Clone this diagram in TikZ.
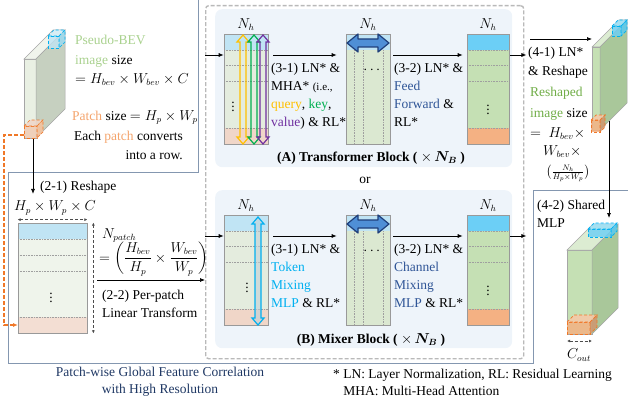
\documentclass[tikz,border=0pt]{standalone}
\usepackage{amsmath,amssymb}
\usepackage{fontspec}
\setmainfont{Liberation Serif}
\usepackage{tikz}
\usetikzlibrary{arrows.meta,positioning,calc}
\definecolor{panelbg}{RGB}{238,244,250}
\definecolor{outl}{RGB}{132,151,176}
\definecolor{bevgreen}{RGB}{169,209,142}
\definecolor{patchor}{RGB}{244,164,108}
\definecolor{darkor}{RGB}{240,120,40}
\definecolor{navy}{RGB}{47,85,151}
\definecolor{capnavy}{RGB}{31,56,100}
\definecolor{tokcyan}{RGB}{0,176,240}
\definecolor{rgreen}{RGB}{112,173,71}
\definecolor{qyel}{RGB}{255,192,0}
\definecolor{kgrn}{RGB}{0,176,80}
\definecolor{vpur}{RGB}{112,48,160}
\definecolor{lblue}{RGB}{192,228,244}
\definecolor{dblue}{RGB}{108,207,246}
\definecolor{lgreen}{RGB}{228,236,222}
\definecolor{mgreen}{RGB}{197,224,180}
\definecolor{sgreen}{RGB}{169,199,154}
\definecolor{bevfront}{RGB}{233,240,227}
\definecolor{bevtop}{RGB}{240,244,236}
\definecolor{bevside}{RGB}{198,208,192}
\definecolor{lorange}{RGB}{240,214,200}
\definecolor{morange}{RGB}{244,177,131}
\definecolor{arrblue}{RGB}{79,143,214}
\definecolor{arrdark}{RGB}{31,63,122}
\newcommand{\bodyfont}{\fontsize{13.5}{18}\selectfont}
\newcommand{\minifont}{\fontsize{11}{13}\selectfont}
% box in oblique view: style, front, top, side, x, y, w, h, depth
\newcommand{\prism}[9]{%
  \filldraw[#1, fill=#2] (#5,#6) rectangle ++(#7,#8);
  \filldraw[#1, fill=#3] (#5,#6) -- ++(#9,-#9) -- ++(#7,0) -- ++(-#9,#9) -- cycle;
  \filldraw[#1, fill=#4] (#5+#7,#6) -- ++(#9,-#9) -- ++(0,#8) -- ++(-#9,#9) -- cycle;
}

\begin{document}
\begin{tikzpicture}[x=1pt, y=-1pt,
      txt/.style={font=\bodyfont, align=left, inner sep=0pt, anchor=north west},
      lbl/.style={font=\bodyfont, inner sep=0pt},
      panel/.style={fill=panelbg, rounded corners=7pt, minimum width=297pt,
                    minimum height=158pt, anchor=north west},
      stackbox/.style={draw=gray!55, line width=1.4pt, dash pattern=on 4pt off 2pt,
                       rounded corners=3pt, minimum width=318pt, minimum height=353pt,
                       anchor=north west},
      colframe/.style={draw=gray!80, line width=0.7pt, minimum width=44pt,
                       minimum height=110pt, inner sep=0pt},
      rowline/.style={gray!75, densely dotted, line width=0.6pt},
      arr/.style={-{Latex[length=5pt,width=4pt]}, line width=0.7pt},
      dimarr/.style={{Latex[length=3pt,width=3pt]}-{Latex[length=3pt,width=3pt]},
                     densely dashed, line width=0.6pt, black!70},
      face/.style={draw=gray!70, line width=0.5pt},
      bluecube/.style={draw=tokcyan, densely dashed, line width=0.7pt, fill opacity=0.8},
      orcube/.style={draw=darkor, densely dashed, line width=0.7pt, fill opacity=0.85},
      outline/.style={draw=outl, line width=0.9pt},
      patchlink/.style={draw=darkor, dash pattern=on 4pt off 2pt, line width=1.2pt,
                        -{Latex[length=5pt,width=4pt,fill=darkor]}},
    ]
    \useasboundingbox (0,0) rectangle (628,404);

    % Outline of the patch-wise region
    \draw[outline] (198,0) -- (198,172) -- (8,172) -- (8,363) -- (533,363)
      -- (533,190) -- (628,190);

    % Block stack
    \node[stackbox] (stack) at (205,5) {};
    \node[panel] (panA) at (215,9) {};
    \node[panel] (panB) at (215,190) {};

    \foreach \dy/\b/\dx in {0/A/233,181/B/247}{
      % token column
      \fill[lblue] (224,34+\dy) rectangle (268,50+\dy);
      \fill[lgreen] (224,50+\dy) rectangle (268,128+\dy);
      \fill[lorange] (224,128+\dy) rectangle (268,144+\dy);
      \foreach \y in {50,65,81,128}
        \draw[rowline] (224,\y+\dy) -- (268,\y+\dy);
      \node[colframe] (c1\b) at (246,89+\dy) {};
      \node[lbl] at (\dx,104+\dy) {$\vdots$};
      % channel column
      \fill[lblue] (346,34+\dy) rectangle (390,50+\dy);
      \fill[lgreen!70!mgreen] (346,50+\dy) rectangle (390,144+\dy);
      \foreach \x in {354,363,383}
        \draw[rowline] (\x,50+\dy) -- (\x,144+\dy);
      \node[colframe] (c2\b) at (368,89+\dy) {};
      \node[lbl] at (373,70+\dy) {$\cdots$};
      \filldraw[fill=arrblue, draw=arrdark, line width=1.2pt, line join=round]
        (347,43+\dy) -- (358,34+\dy) -- (358,39+\dy) -- (378,39+\dy) -- (378,34+\dy)
        -- (389,43+\dy) -- (378,52+\dy) -- (378,47+\dy) -- (358,47+\dy)
        -- (358,52+\dy) -- cycle;
      % output column
      \fill[dblue] (467,34+\dy) rectangle (509,50+\dy);
      \fill[mgreen] (467,50+\dy) rectangle (509,128+\dy);
      \fill[morange] (467,128+\dy) rectangle (509,144+\dy);
      \foreach \y in {50,65,81,128}
        \draw[rowline] (467,\y+\dy) -- (509,\y+\dy);
      \node[colframe, minimum width=42pt] (c3\b) at (488,89+\dy) {};
      \node[lbl] at (488,107+\dy) {$\vdots$};
      \foreach \cn in {c1,c2,c3}
        \node[lbl, above=3pt of \cn\b] {$N_h$};
      % arrows through the block
      \coordinate (lv\b) at (0,55+\dy);
      \draw[arr] (stack.west |- lv\b) -- (c1\b.west |- lv\b);
      \draw[arr, shorten <=5pt, shorten >=9pt] (c1\b.east |- lv\b) -- (c2\b.west |- lv\b);
      \draw[arr, shorten <=3pt, shorten >=4pt] (c2\b.east |- lv\b) -- (c3\b.west |- lv\b);
      \draw[arr, shorten <=1pt, shorten >=-2pt] (c3\b.east |- lv\b) -- (stack.east |- lv\b);
    }

    % Attention arrows (query, key, value)
    \foreach \x/\clr in {243/qyel,254/kgrn,263/vpur}
      \draw[\clr, line width=1.2pt]
        (\x,35) -- (\x+6,42) -- (\x+3,42) -- (\x+3,137) -- (\x+6,137) -- (\x,144)
        -- (\x-6,137) -- (\x-3,137) -- (\x-3,42) -- (\x-6,42) -- cycle;
    % Token mixing arrow
    \filldraw[draw=tokcyan, fill=lblue!60!gray!70, fill opacity=0.6, line width=1.2pt]
      (258,217) -- (264,224) -- (261,224) -- (261,318) -- (264,318) -- (258,325)
      -- (252,318) -- (255,318) -- (255,224) -- (252,224) -- cycle;

    % Block texts
    \node[txt] (mha) at (271,63)
      {(3-1) LN* \&\\MHA* {\minifont (i.e.,}\\\textcolor{qyel}{query}, \textcolor{kgrn}{key},\\\textcolor{vpur}{value}) \& RL*};
    \node[txt] (ffn) at (394,63)
      {(3-2) LN* \&\\\textcolor{navy}{Feed}\\\textcolor{navy}{Forward} \&\\RL*};
    \node[txt] (tok) at (271,244)
      {(3-1) LN* \&\\\textcolor{tokcyan}{Token}\\\textcolor{tokcyan}{Mixing}\\\textcolor{tokcyan}{MLP} \& RL*};
    \node[txt] (chn) at (394,244)
      {(3-2) LN* \&\\\textcolor{navy}{Channel}\\\textcolor{navy}{Mixing}\\\textcolor{navy}{MLP} \& RL*};
    \node[lbl, font=\bodyfont\bfseries] (titA) at (371,158)
      {(A) Transformer Block ( $\times\,\boldsymbol{N_B}$ )};
    \node[lbl] (or) at (365,180) {or};
    \node[lbl, font=\bodyfont\bfseries] (titB) at (371,340)
      {(B) Mixer Block ( $\times\,\boldsymbol{N_B}$ )};

    % Pseudo-BEV input
    \prism{face}{bevfront}{bevtop}{bevside}{24}{59}{12}{79}{29}
    \prism{bluecube}{lblue}{lblue!70!white}{lblue!80!tokcyan}{48}{36}{11}{12}{6}
    \prism{orcube}{lorange!70!morange}{lorange}{morange!80}{24}{126}{13}{12}{6}
    \node[txt, font=\fontsize{13.5}{19.5}\selectfont] (bevtxt) at (75,35)
      {\textcolor{bevgreen}{Pseudo-BEV}\\\textcolor{bevgreen}{image} size\\$= H_{bev}\times W_{bev}\times C$};
    \node[txt] (ptxt) at (72,110) {\textcolor{patchor}{Patch} size $= H_p\times W_p$};
    \node[txt, align=right, anchor=north east, font=\fontsize{13.5}{19}\selectfont] (rowtxt)
      at (183,131) {Each \textcolor{patchor}{patch} converts\\into a row.};

    % Patch rows
    \fill[lblue] (18,223) rectangle (87,239);
    \fill[lgreen!60!white] (18,239) rectangle (87,317);
    \fill[lorange!80!white] (18,317) rectangle (87,333);
    \foreach \y in {239,255,271,317}
      \draw[rowline] (18,\y) -- (87,\y);
    \node[colframe, minimum width=69pt] (patches) at (52.5,278) {};
    \node[lbl] at (51,295) {$\vdots$};
    \node[lbl] (psize) at (55,208) {$H_p\times W_p\times C$};
    \draw[dimarr] ([yshift=3pt]patches.north west) -- ([yshift=3pt]patches.north east);
    \draw[dimarr] ([xshift=6pt]patches.north east) -- ([xshift=6pt]patches.south east);
    \coordinate (bevout) at (33,139);
    \draw[arr, shorten >=7pt] (bevout) -- (bevout |- psize.north);
    \node[lbl, anchor=base west] (reshp) at (40,190.5) {(2-1) Reshape};
    \coordinate (opatch) at (24,135);
    \coordinate (orow) at (18,325);
    \draw[patchlink] (opatch) -- ++(-20,0) |- (orow);
    \node[lbl, anchor=base west] (npatch) at (102,238.5) {$N_{patch}$};
    \node[lbl, anchor=west] (nfrac) at (99,259)
      {$=\left(\dfrac{H_{bev}}{H_p}\times\dfrac{W_{bev}}{W_p}\right)$};
    \coordinate (linin) at (97,280);
    \draw[arr] (linin) -- (stack.west |- linin);
    \node[txt] (lintxt) at (102,290) {(2-2) Per-patch\\Linear Transform};

    % Reshaped output
    \coordinate (rsin) at (592,39);
    \draw[arr] ([xshift=6pt]stack.east |- rsin) -- (rsin);
    \prism{face}{mgreen}{mgreen!60!white}{sgreen}{592}{47}{8}{83}{27}
    \prism{bluecube}{dblue}{dblue!70!white}{dblue!80!tokcyan}{612}{26}{9}{10}{6}
    \prism{orcube}{morange}{morange!70!white}{morange!85!black}{591}{120}{9}{12}{5}
    \node[txt, font=\fontsize{13.5}{19}\selectfont] (lntxt) at (528,47)
      {(4-1) LN*\\\& Reshape};
    \node[txt, font=\fontsize{13.5}{21}\selectfont] (rstxt) at (530,87)
      {\textcolor{rgreen}{Reshaped}\\\textcolor{rgreen}{image} size};
    \node[txt] (rseq) at (530,127) {$=\ H_{bev}\times$};
    \node[txt] (rsw) at (543,145) {$W_{bev}\times$};
    \node[lbl, anchor=west, font=\fontsize{12}{14}\selectfont] (rsfrac) at (546,173)
      {$\bigl(\frac{N_h}{H_p\times W_p}\bigr)$};

    % Shared MLP
    \coordinate (rsout) at (609,121);
    \coordinate (mlpin) at (609,218);
    \draw[arr] (rsout) -- (mlpin);
    \node[txt] (mlptxt) at (537,200) {(4-2) Shared\\MLP};
    \prism{face}{mgreen}{mgreen!60!white}{sgreen}{567}{250}{25}{84}{26}
    \prism{bluecube}{dblue}{dblue!70!white}{dblue!80!tokcyan}{588}{229}{23}{8}{6}
    \prism{orcube}{morange}{morange!70!white}{morange!85!black}{567}{322}{23}{12}{7}
    \coordinate (coutL) at (567,341);
    \coordinate (coutR) at (592,341);
    \draw[dimarr] (coutL) -- (coutR);
    \node[lbl] (cout) at (579,355) {$C_{out}$};

    % Captions
    \node[lbl, align=center, text=capnavy, font=\fontsize{13.5}{17}\selectfont] (cap)
      at (160,382) {Patch-wise Global Feature Correlation\\with High Resolution};
    \node[txt, font=\fontsize{13.5}{17}\selectfont] (foot) at (333,369)
      {* LN: Layer Normalization, RL: Residual Learning\\\hphantom{*~}MHA: Multi-Head Attention};
  \end{tikzpicture}
\end{document}
